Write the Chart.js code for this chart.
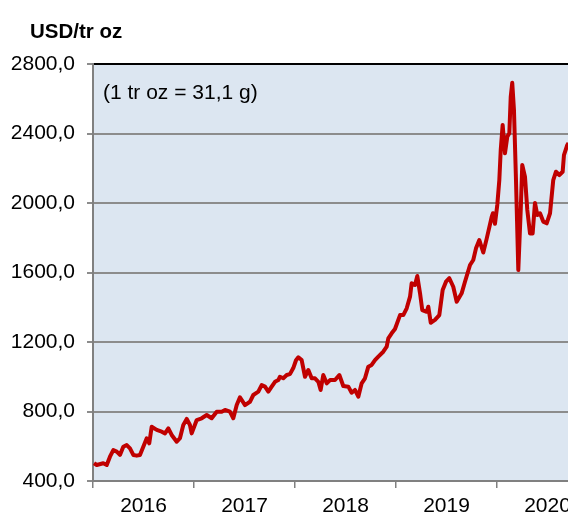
<!DOCTYPE html>
<html>
<head>
<meta charset="utf-8">
<script src="https://cdn.jsdelivr.net/npm/chart.js@4"></script>
<style>
  html, body { margin: 0; padding: 0; background: #fff; overflow: hidden; }
  canvas { display: block; }
</style>
</head>
<body>
<canvas id="price-chart" width="568" height="516"></canvas>
<script>
// Price in USD per troy ounce (time as decimal year)
const years = [
  2016.010, 2016.037, 2016.102, 2016.136, 2016.168, 2016.201, 2016.235, 2016.267, 2016.300, 2016.334,
  2016.366, 2016.399, 2016.433, 2016.465, 2016.498, 2016.532, 2016.557, 2016.581, 2016.631, 2016.680,
  2016.713, 2016.746, 2016.779, 2016.829, 2016.861, 2016.894, 2016.928, 2016.960, 2016.977, 2017.027,
  2017.076, 2017.126, 2017.175, 2017.225, 2017.274, 2017.307, 2017.356, 2017.389, 2017.423, 2017.455,
  2017.505, 2017.554, 2017.587, 2017.637, 2017.670, 2017.703, 2017.736, 2017.769, 2017.802, 2017.835,
  2017.851, 2017.884, 2017.918, 2017.950, 2017.983, 2018.010, 2018.033, 2018.066, 2018.099, 2018.132,
  2018.165, 2018.198, 2018.231, 2018.254, 2018.280, 2018.314, 2018.347, 2018.396, 2018.439, 2018.478,
  2018.528, 2018.561, 2018.594, 2018.627, 2018.660, 2018.693, 2018.726, 2018.759, 2018.792, 2018.825,
  2018.874, 2018.908, 2018.924, 2018.957, 2018.990, 2019.040, 2019.072, 2019.106, 2019.139, 2019.155,
  2019.188, 2019.211, 2019.238, 2019.260, 2019.304, 2019.320, 2019.344, 2019.386, 2019.429, 2019.462,
  2019.495, 2019.528, 2019.567, 2019.601, 2019.650, 2019.683, 2019.733, 2019.765, 2019.792, 2019.825,
  2019.864, 2019.898, 2019.948, 2019.960, 2019.980, 2020.003, 2020.023, 2020.037, 2020.056, 2020.079,
  2020.102, 2020.122, 2020.136, 2020.151, 2020.168, 2020.188, 2020.211, 2020.235, 2020.250, 2020.277,
  2020.300, 2020.327, 2020.353, 2020.376, 2020.399, 2020.426, 2020.458, 2020.492, 2020.525, 2020.557,
  2020.584, 2020.617, 2020.650, 2020.663, 2020.696, 2020.708
];
const prices = [
  502, 492, 502, 492, 540, 578, 569, 550, 597, 607,
  588, 550, 546, 550, 597, 646, 617, 712, 694, 684,
  674, 703, 665, 626, 646, 722, 757, 722, 674, 751,
  761, 780, 761, 799, 799, 809, 799, 761, 837, 882,
  837, 856, 895, 914, 952, 943, 914, 943, 971, 981,
  1000, 991, 1010, 1015, 1050, 1095, 1112, 1096, 1000, 1039,
  991, 991, 971, 924, 1010, 962, 981, 981, 1010, 947,
  943, 908, 924, 885, 962, 991, 1058, 1068, 1096, 1116,
  1144, 1173, 1221, 1250, 1275, 1355, 1355, 1394, 1461, 1538,
  1528, 1580, 1480, 1384, 1374, 1403, 1311, 1327, 1355, 1499,
  1547, 1567, 1518, 1432, 1480, 1547, 1643, 1672, 1739, 1787,
  1715, 1795, 1921, 1941, 1880, 1990, 2132, 2305, 2449, 2286,
  2382, 2401, 2612, 2692, 2535, 2132, 1614, 1960, 2219, 2152,
  1960, 1825, 1825, 2000, 1931, 1941, 1893, 1883, 1941, 2132,
  2180, 2161, 2180, 2276, 2334, 2345
];
const yearTicks = [2016, 2017, 2018, 2019, 2020];
const unitLabel = 'USD/tr oz';
const noteLabel = '(1 tr oz = 31,1 g)';

const colors = {
  line: '#c00000',
  plotBg: '#dce6f1',
  grid: '#8c8c8c',
  axis: '#808080',
  text: '#000000'
};
const fontFamily = "'Liberation Sans', Arial, sans-serif";

// plot background + the two free texts
const decorPlugin = {
  id: 'decor',
  beforeDraw(chart) {
    const { ctx, chartArea: a } = chart;
    ctx.save();
    ctx.fillStyle = colors.plotBg;
    ctx.fillRect(a.left, a.top, a.right - a.left, a.bottom - a.top);
    ctx.restore();
  },
  afterDraw(chart) {
    const { ctx } = chart;
    ctx.save();
    ctx.fillStyle = colors.text;
    ctx.textBaseline = 'middle';
    ctx.textAlign = 'left';
    ctx.font = 'bold 20.5px ' + fontFamily;
    ctx.fillText(unitLabel, 30, 32);
    ctx.font = '21px ' + fontFamily;
    ctx.fillText(noteLabel, 103, 93);
    ctx.restore();
  }
};

const points = years.map((t, i) => ({ x: t, y: prices[i] }));

new Chart(document.getElementById('price-chart'), {
  type: 'line',
  data: {
    datasets: [{
      data: points,
      borderColor: colors.line,
      borderWidth: 4,
      pointRadius: 0,
      tension: 0,
      borderJoinStyle: 'round'
    }]
  },
  options: {
    responsive: false,
    animation: false,
    layout: { padding: { top: 64, left: 0, right: 0, bottom: 0 } },
    plugins: {
      legend: { display: false },
      tooltip: { enabled: false }
    },
    scales: {
      x: {
        type: 'linear',
        min: 2016,
        max: 2020.703,
        afterBuildTicks: (scale) => {
          scale.ticks = yearTicks.map(v => ({ value: v }));
        },
        afterFit: (scale) => { scale.height = 35; },
        grid: {
          drawOnChartArea: false,
          drawTicks: true,
          tickLength: 7,
          color: colors.axis,
          lineWidth: 1.5
        },
        border: { display: true, color: colors.axis, width: 2 },
        ticks: {
          labelOffset: 50.5,
          padding: 6,
          maxRotation: 0,
          autoSkip: false,
          color: colors.text,
          font: { family: fontFamily, size: 21 },
          callback: (value) => String(value)
        }
      },
      y: {
        min: 400,
        max: 2800,
        afterFit: (scale) => { scale.width = 93; },
        grid: {
          color: (c) => (c.tick && c.tick.value === 2800 ? '#000000' : colors.grid),
          tickColor: colors.grid,
          lineWidth: 2,
          drawTicks: true,
          tickLength: 6
        },
        border: { display: true, color: colors.axis, width: 2 },
        ticks: {
          stepSize: 400,
          padding: 12,
          color: colors.text,
          font: { family: fontFamily, size: 21 },
          callback: (value) => value.toFixed(1).replace('.', ',')
        }
      }
    }
  },
  plugins: [decorPlugin]
});
</script>
</body>
</html>
